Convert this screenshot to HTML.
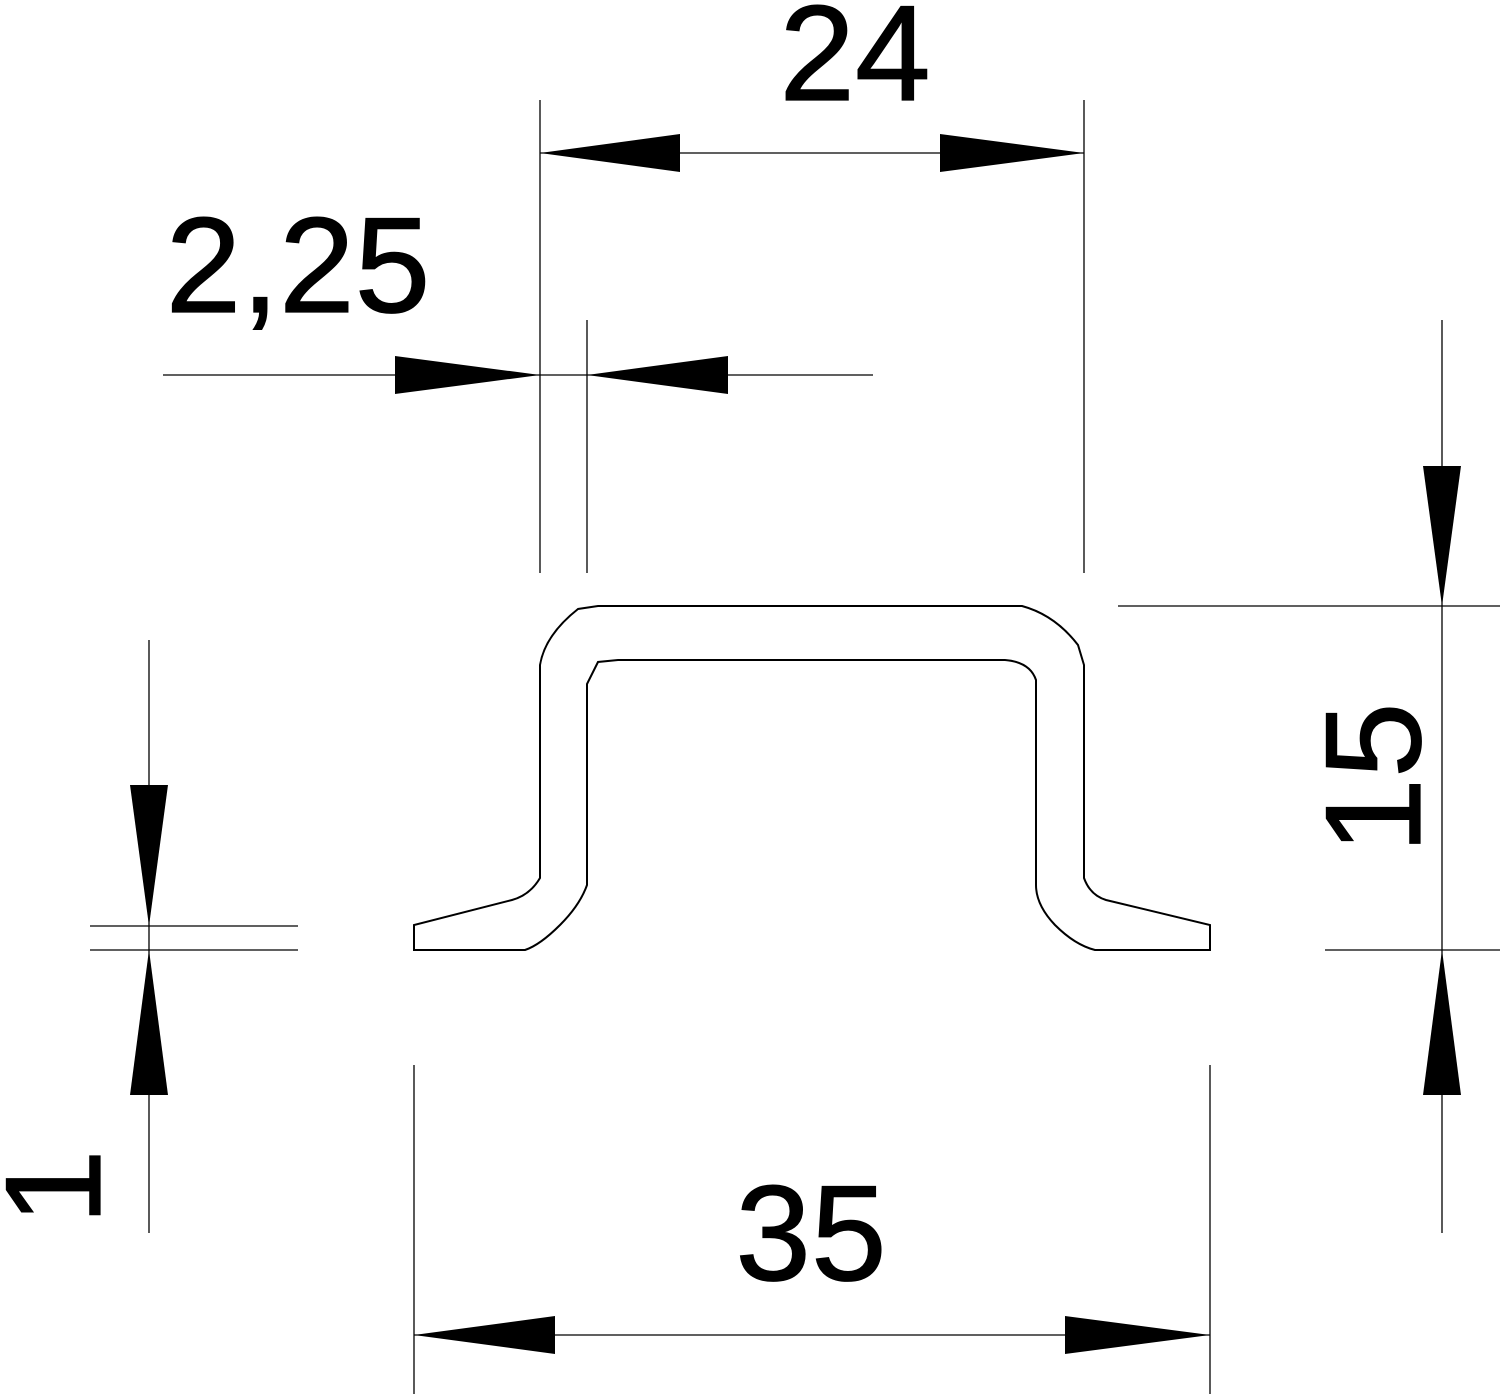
<!DOCTYPE html>
<html><head><meta charset="utf-8"><style>html,body{margin:0;padding:0;background:#fff}svg{display:block}</style></head>
<body>
<svg width="1500" height="1394" viewBox="0 0 1500 1394" xmlns="http://www.w3.org/2000/svg">
<g stroke="#000" stroke-width="1.3" fill="none">
<line x1="540" y1="100" x2="540" y2="573"/><line x1="1084" y1="100" x2="1084" y2="573"/>
<line x1="540" y1="153" x2="1084" y2="153"/>
<line x1="587" y1="320" x2="587" y2="573"/>
<line x1="163" y1="375" x2="873" y2="375"/>
<line x1="1442" y1="320" x2="1442" y2="1233"/>
<line x1="1118" y1="606" x2="1500" y2="606"/><line x1="1325" y1="950" x2="1500" y2="950"/>
<line x1="149" y1="640" x2="149" y2="1233"/>
<line x1="90" y1="926" x2="298" y2="926"/><line x1="90" y1="950" x2="298" y2="950"/>
<line x1="414" y1="1065" x2="414" y2="1394"/><line x1="1210" y1="1065" x2="1210" y2="1394"/>
<line x1="414" y1="1335" x2="1210" y2="1335"/>
</g>
<g fill="#000">
<polygon points="540,153 680,134 680,172"/><polygon points="1084,153 940,134 940,172"/>
<polygon points="540,375 395,356 395,394"/><polygon points="587,375 728,356 728,394"/>
<polygon points="1442,606 1423,466 1461,466"/><polygon points="1442,950 1423,1095 1461,1095"/>
<polygon points="149,926 130,785 168,785"/><polygon points="149,950 130,1095 168,1095"/>
<polygon points="414,1335 555,1316 555,1354"/><polygon points="1210,1335 1065,1316 1065,1354"/>
</g>
<path d="M414,950 L414,925 L512,900 Q530,895 540,878 L540,665 Q545,635 578,609 L598,606 L1022,606 Q1055,615 1078,645 L1084,665 L1084,878 Q1090,895 1106,900 L1210,925 L1210,950 L1095,950 Q1075,945 1055,925 Q1036,905 1036,885 L1036,680 Q1030,662 1005,660 L618,660 L598,662 L587,684 L587,885 Q580,905 560,925 Q540,945 525,950 Z" fill="none" stroke="#000" stroke-width="2"/>
<g font-family="Liberation Sans, sans-serif" font-size="136" fill="#000" stroke="#000" stroke-width="1.2">
<text x="855" y="100" text-anchor="middle">24</text>
<text x="298" y="312" text-anchor="middle">2,25</text>
<text x="811" y="1280" text-anchor="middle">35</text>
<text transform="translate(1420,778) rotate(-90)" text-anchor="middle">15</text>
<text transform="translate(100,1225) rotate(-90)">1</text>
</g>
</svg>
</body></html>
